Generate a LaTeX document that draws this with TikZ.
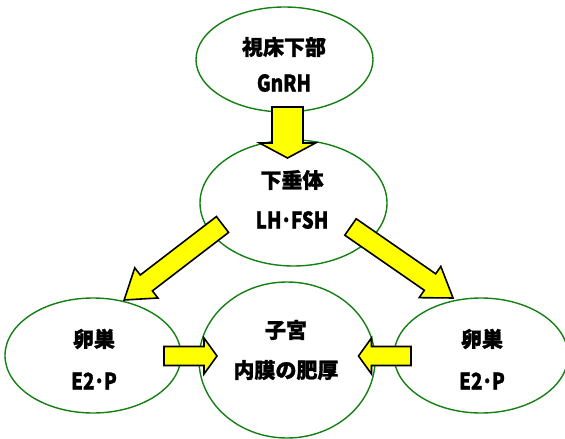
\documentclass[tikz,border=0pt]{standalone}
\usepackage{fontspec}
\setmainfont{Noto Sans CJK JP}[BoldFeatures={FakeBold=1.2}]
\usepackage{graphicx}
\usetikzlibrary{shapes.geometric}
\definecolor{ringgreen}{RGB}{20,128,20}
\definecolor{arrowyellow}{RGB}{255,255,0}
\newcommand\latn[1]{\scalebox{0.82}[1]{\fontsize{23}{24}\selectfont #1}}
% tail x, tail y, angle, length, shaft width, head width, head length
\newcommand\blkarrow[7]{%
  \begin{scope}[shift={(#1,#2)},rotate=#3]
    \draw[blockarrow] (0,-#5/2) -- ({#4-#7},-#5/2) -- ({#4-#7},-#6/2) -- (#4,0)
      -- ({#4-#7},#6/2) -- ({#4-#7},#5/2) -- (0,#5/2) -- cycle;
  \end{scope}}
\begin{document}
\begin{tikzpicture}[x=1pt,y=-1pt,
  ring/.style={ellipse,draw=ringgreen,line width=1.4pt,fill=white,inner sep=0pt},
  blockarrow/.style={fill=arrowyellow,draw=black,line width=1.6pt,line join=miter},
  txt/.style={font=\bfseries\fontsize{21}{24}\selectfont,inner sep=0pt,anchor=center}]
\useasboundingbox (0,0) rectangle (565,439);
% ellipses
\node[ring,minimum width=177pt,minimum height=105pt] (hyp) at (284.5,59.5) {};
\node[ring,minimum width=187pt,minimum height=126pt] (pit) at (293.5,203) {};
\node[ring,minimum width=176pt,minimum height=115pt] (ovl) at (93,355.5) {};
\node[ring,minimum width=176pt,minimum height=156pt] (ute) at (287,360) {};
\node[ring,minimum width=174pt,minimum height=115pt] (ovr) at (481,355.5) {};
% block arrows
\blkarrow{287.5}{107}{-90}{51}{31}{56}{15}
\blkarrow{222.5}{224.5}{-142.5}{124}{20}{38}{28}
\blkarrow{350.5}{227}{-34.7}{124.7}{20}{38}{28}
\blkarrow{164}{356}{0}{53}{19}{36}{13}
\blkarrow{411}{356}{180}{52.5}{19}{36}{13}
% texts
\node[txt] (hypa) at (284,47) {視床下部};
\node[txt] (hypb) at (284,83) {\latn{GnRH}};
\node[txt] (pita) at (292,180) {下垂体};
\node[txt] (pitb) at (292,220) {\latn{LH･FSH}};
\node[txt] (ovla) at (94,339) {卵巣};
\node[txt] (ovlb) at (94,381) {\latn{E2･P}};
\node[txt] (utea) at (286,330) {子宮};
\node[txt] (uteb) at (286,370) {内膜の肥厚};
\node[txt] (ovra) at (482,339) {卵巣};
\node[txt] (ovrb) at (482,381) {\latn{E2･P}};
\end{tikzpicture}
\end{document}
